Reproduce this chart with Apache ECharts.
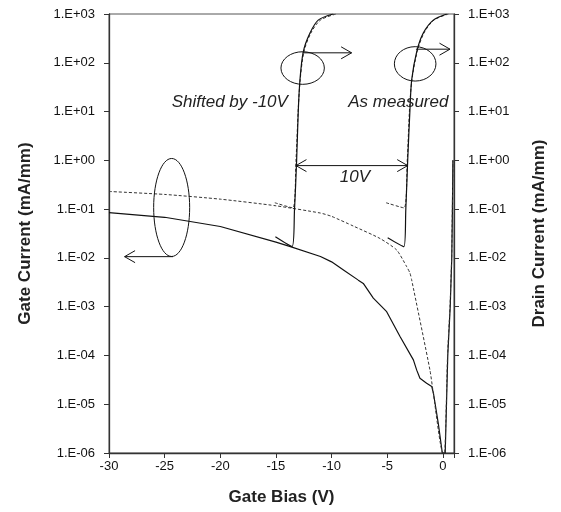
<!DOCTYPE html>
<html>
<head>
<meta charset="utf-8">
<script src="https://cdn.jsdelivr.net/npm/echarts@6/dist/echarts.min.js"></script>
<style>
  html, body { margin: 0; padding: 0; background: #fff; }
  #chart { width: 561px; height: 512px; }
</style>
</head>
<body>
<div id="chart"></div>
<script>
// tick labels
const xTicks = [-30, -25, -20, -15, -10, -5, 0];
const yTickLabels = ['1.E-06', '1.E-05', '1.E-04', '1.E-03', '1.E-02', '1.E-01', '1.E+00', '1.E+01', '1.E+02', '1.E+03'];

// gate current (left axis), [bias V, mA/mm]
const gateSolid = [
  [-30, 0.085], [-25, 0.068], [-20, 0.044], [-15, 0.021], [-13.7, 0.017], [-11, 0.0107],
  [-10, 0.0083], [-8.9, 0.0056], [-7.6, 0.0035], [-7.15, 0.003], [-6.25, 0.0015],
  [-5.05, 0.00079], [-3.85, 0.000245], [-2.65, 8.1e-5], [-2.35, 5e-5], [-2.06, 3.4e-5],
  [-1.46, 2.7e-5], [-1.0, 2.3e-5], [-0.85, 1.7e-5], [-0.41, 4e-6], [-0.05, 1e-6],
  [0.21, 1e-6], [0.44, 1e-4], [0.66, 1e-3], [0.8, 1e-2], [0.86, 0.1], [0.9, 1]
];
const gateDashed = [
  [-30, 0.23], [-25, 0.2], [-20, 0.16], [-15, 0.117], [-11, 0.083], [-10, 0.071],
  [-8.05, 0.045], [-5.65, 0.025], [-4.15, 0.0145], [-3.25, 0.0066], [-2.96, 0.0049],
  [-2.8, 0.0035], [-1.16, 5e-5], [-0.86, 1.7e-5], [0, 1e-6],
  [0.15, 1e-6], [0.42, 1e-4], [0.64, 1e-3], [0.79, 1e-2], [0.85, 0.1], [0.9, 1]
];

// drain current (right axis)
const drainMeasured = [
  [-4.96, 0.026], [-3.5, 0.017], [-3.33, 0.1], [-3.16, 1], [-2.96, 10.7], [-2.8, 45],
  [-2.35, 170], [-1.76, 407], [-0.86, 750], [0.34, 1000]
];
const drainMeasuredDashed = [
  [-5.1, 0.135], [-3.5, 0.106], [-3.2, 1], [-3.0, 10.7], [-2.78, 45], [-2.3, 170],
  [-1.7, 407], [-0.8, 750], [0.5, 1000]
];
const drainShifted = [
  [-15.05, 0.027], [-13.55, 0.017], [-13.33, 0.1], [-13.14, 1], [-12.99, 10.7], [-12.84, 45],
  [-12.54, 170], [-11.94, 407], [-11.2, 750], [-9.85, 1000]
];
const drainShiftedDashed = [
  [-15.1, 0.135], [-13.5, 0.106], [-13.2, 1], [-13.0, 10.7], [-12.82, 45], [-12.48, 170],
  [-11.86, 407], [-11.0, 750], [-9.6, 1000]
];

const FONT = '"Liberation Sans", Arial, sans-serif';
const chart = echarts.init(document.getElementById('chart'));

function yAxisDef(name, right) {
  return {
    type: 'log',
    logBase: 10,
    min: 1e-6,
    max: 1e3,
    splitNumber: 10,
    position: right ? 'right' : 'left',
    name: name,
    nameLocation: 'middle',
    nameGap: right ? 77 : 75,
    nameRotate: 90,
    nameTextStyle: { fontFamily: FONT, fontWeight: 'bold', fontSize: 17, color: '#222' },
    axisLine: { show: true, onZero: false, lineStyle: { color: '#333', width: 1.3 } },
    axisTick: { show: true, length: 5, lineStyle: { color: '#333' } },
    minorTick: { show: false },
    splitLine: { show: false },
    axisLabel: {
      margin: 14,
      fontFamily: FONT,
      fontSize: 13,
      color: '#111',
      formatter: v => yTickLabels[Math.round(Math.log10(v)) + 6] || ''
    }
  };
}

function line(data, yIdx, dashed, smooth) {
  return {
    type: 'line',
    data: data,
    yAxisIndex: yIdx,
    showSymbol: false,
    smooth: smooth,
    clip: true,
    lineStyle: { color: dashed ? '#333' : '#111', width: dashed ? 1 : 1.2, type: dashed ? [3, 2] : 'solid' },
    animation: false
  };
}

chart.setOption({
  animation: false,
  grid: { left: 109, right: 107, top: 14, bottom: 59, show: true, borderColor: '#555', borderWidth: 1 },
  xAxis: {
    type: 'value',
    min: -30,
    max: 1,
    interval: 5,
    name: 'Gate Bias (V)',
    nameLocation: 'middle',
    nameGap: 36,
    nameTextStyle: { fontFamily: FONT, fontWeight: 'bold', fontSize: 17, color: '#222' },
    axisLine: { show: true, onZero: false, lineStyle: { color: '#333', width: 1.3 } },
    axisTick: { show: true, length: 5, lineStyle: { color: '#333' } },
    splitLine: { show: false },
    axisLabel: {
      margin: 7,
      fontFamily: FONT,
      fontSize: 13,
      color: '#111',
      formatter: v => (xTicks.indexOf(v) >= 0 ? String(v) : '')
    }
  },
  yAxis: [yAxisDef('Gate Current (mA/mm)', false), yAxisDef('Drain Current (mA/mm)', true)],
  series: [
    line(gateSolid, 0, false, false),
    line(gateDashed, 0, true, 0.2),
    line(drainShiftedDashed, 1, true, 0.3),
    line(drainMeasuredDashed, 1, true, 0.3),
    line(drainShifted, 1, false, 0.3),
    line(drainMeasured, 1, false, 0.3)
  ]
});

// annotations anchored in data space
const P = (x, y) => chart.convertToPixel({ gridIndex: 0 }, [x, y]);
const stroke = { stroke: '#111', lineWidth: 1, fill: 'none' };

function ellipse(x, y, rx, ry) {
  const c = P(x, y);
  return { type: 'ellipse', z: 100, shape: { cx: c[0], cy: c[1], rx: rx, ry: ry }, style: stroke };
}
function arrow(a, b, both) {
  const p0 = P(a[0], a[1]), p1 = P(b[0], b[1]);
  const dir = p1[0] > p0[0] ? 1 : -1;
  const els = [
    { type: 'polyline', z: 100, shape: { points: [p0, p1] }, style: stroke },
    { type: 'polyline', z: 100, shape: { points: [[p1[0] - dir * 10.5, p1[1] - 6], p1, [p1[0] - dir * 10.5, p1[1] + 6]] }, style: stroke }
  ];
  if (both) {
    els.push({ type: 'polyline', z: 100, shape: { points: [[p0[0] + dir * 10.5, p0[1] - 6], p0, [p0[0] + dir * 10.5, p0[1] + 6]] }, style: stroke });
  }
  return els;
}
function label(x, y, text) {
  const p = P(x, y);
  return {
    type: 'text', z: 100, x: p[0], y: p[1],
    style: { text: text, font: 'italic 17px ' + FONT, fill: '#222', align: 'left', verticalAlign: 'middle' }
  };
}
function centerLabel(x, y, text) {
  const el = label(x, y, text);
  el.style.align = 'center';
  return el;
}

chart.setOption({
  graphic: [
    ellipse(-24.37, 0.108, 18, 49),
    ...arrow([-24.25, 0.0106], [-28.6, 0.0106]),
    ellipse(-12.6, 78, 21.7, 16.3),
    ...arrow([-12.6, 160], [-8.2, 160]),
    ellipse(-2.49, 95, 20.8, 17.2),
    ...arrow([-2.42, 190], [0.64, 190]),
    ...arrow([-13.2, 0.78], [-3.16, 0.78], true),
    centerLabel(-7.9, 0.46, '10V'),
    label(-24.37, 15.5, 'Shifted by -10V'),
    label(-8.5, 15.5, 'As measured')
  ]
});
</script>
</body>
</html>
